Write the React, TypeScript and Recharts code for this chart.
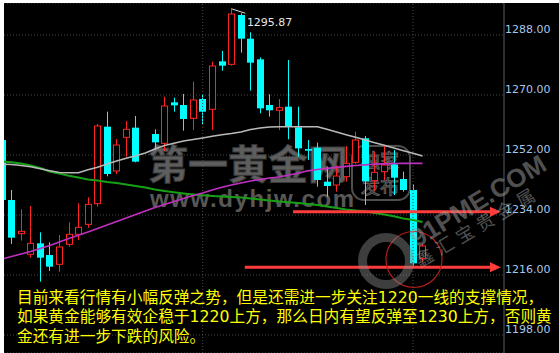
import React from 'react';
import {
  ComposedChart,
  Bar,
  Line,
  XAxis,
  YAxis,
  CartesianGrid,
  ReferenceLine,
  ReferenceDot,
} from 'recharts';

// Trading sessions (index 15 has no bar drawn)
const sessions = [
  0, 1, 2, 3, 4, 5, 6, 7, 8, 9, 10, 11, 12, 13, 14, 15, 16, 17, 18, 19, 20, 21, 22,
  23, 24, 25, 26, 27, 28, 29, 30, 31, 32, 33, 34, 35, 36, 37, 38, 39, 40, 41, 42, 43, 44,
];

const opens = [
  1256.5, 1238.5, 1228.4, 1222.2, 1225.5, 1222.0, 1219.2, 1225.2, 1228.2, 1231.2, 1237.4,
  1260.5, 1247.2, 1257.3, 1260.2, null, 1258.3, 1255.5, 1267.8, 1267.0, 1263.0, 1268.8,
  1265.7, 1280.1, 1279.2, 1294.0, 1286.9, 1280.7, 1267.0, 1265.4, 1266.5, 1260.3, 1253.8,
  1254.2, 1244.0, 1243.0, 1245.5, 1249.8, 1257.0, 1244.3, 1247.0, 1249.2, 1244.8, 1241.5,
  1221.0,
];
const highs = [
  1257.0, 1241.5, 1235.7, 1236.7, 1228.8, 1225.8, 1228.0, 1231.8, 1237.5, 1239.3, 1261.3,
  1265.0, 1256.7, 1262.2, 1263.7, null, 1259.7, 1269.5, 1269.2, 1270.3, 1274.0, 1270.3,
  1280.0, 1283.2, 1295.87, 1294.5, 1288.8, 1281.3, 1270.2, 1268.8, 1280.5, 1266.5, 1256.5,
  1255.7, 1248.5, 1248.8, 1254.7, 1259.0, 1257.7, 1253.0, 1254.7, 1253.5, 1247.0, 1243.2,
  1225.3,
];
const lows = [
  1238.0, 1225.3, 1226.3, 1221.2, 1214.0, 1217.2, 1217.0, 1224.5, 1226.5, 1230.2, 1236.5,
  1245.6, 1246.3, 1251.5, 1249.8, null, 1253.5, 1253.2, 1265.0, 1259.3, 1259.5, 1261.3,
  1259.5, 1277.3, 1278.8, 1282.7, 1271.3, 1264.5, 1263.5, 1259.5, 1256.7, 1251.5, 1250.5,
  1242.5, 1239.5, 1241.0, 1244.0, 1249.3, 1237.0, 1241.3, 1244.5, 1240.0, 1241.0, 1218.7,
  1220.0,
];
const closes = [
  1238.5, 1227.2, 1229.1, 1225.5, 1221.2, 1218.5, 1224.4, 1228.2, 1230.3, 1237.2, 1260.7,
  1246.3, 1255.0, 1259.7, 1250.0, null, 1255.8, 1266.7, 1266.9, 1262.8, 1268.5, 1265.0,
  1278.7, 1278.8, 1294.3, 1286.9, 1279.7, 1266.0, 1265.4, 1266.2, 1260.5, 1254.0, 1253.3,
  1244.5, 1242.7, 1245.7, 1249.5, 1256.5, 1244.1, 1246.8, 1249.0, 1245.2, 1241.5, 1219.5,
  1224.7,
];

// Moving averages
const maShort = [
  1249.2, 1249.15, 1248.85, 1248.45, 1247.9, 1247.3, 1246.75, 1246.7, 1246.7, 1247.6,
  1248.35, 1249.3, 1250.2, 1251.0, 1251.75, 1252.6, 1253.8, 1254.85, 1255.5, 1256.2,
  1256.65, 1257.1, 1257.6, 1258.1, 1258.45, 1258.9, 1259.65, 1260.1, 1260.4, 1260.5,
  1260.5, 1260.5, 1260.5, 1260.5, 1259.7, 1258.9, 1258.1, 1257.3, 1256.5, 1255.7, 1254.9,
  1254.1, 1253.3, 1252.5, 1251.7,
];
const maMid = [
  1250.05, 1249.8, 1249.45, 1248.85, 1248.1, 1247.05, 1246.45, 1245.75, 1245.25, 1244.65,
  1244.35, 1243.9, 1243.6, 1243.15, 1242.7, 1242.25, 1241.65, 1241.2, 1240.8, 1240.45,
  1240.15, 1239.9, 1239.7, 1239.55, 1239.4, 1239.25, 1238.95, 1238.65, 1238.35, 1238.05,
  1237.8, 1237.6, 1237.3, 1237.0, 1236.55, 1236.1, 1235.65, 1235.35, 1235.05, 1234.6,
  1234.15, 1233.6, 1232.95, 1232.5, 1231.9,
];
const maLong = [
  1220.8, 1221.55, 1222.3, 1223.05, 1223.95, 1224.85, 1225.9, 1226.95, 1227.9, 1228.9,
  1229.95, 1231.0, 1232.05, 1233.1, 1234.15, 1235.2, 1236.25, 1237.15, 1238.05, 1238.95,
  1239.85, 1240.6, 1241.5, 1242.3, 1243.0, 1243.6, 1244.2, 1244.65, 1245.1, 1245.4,
  1246.0, 1246.5, 1247.25, 1247.65, 1248.0, 1248.3, 1248.6, 1248.85, 1249.05, 1249.25,
  1249.35, 1249.45, 1249.5, 1249.5, 1249.5,
];

const yTicks = [1198, 1216, 1234, 1252, 1270, 1288];
const monthMarks = [21, 43];

// Annotation levels
const peakSession = 24;
const resistanceLevel = 1235;
const supportLevel = 1218.3;
const focusSession = 43.1;
const focusLevel = 1220.65;

const commentLines = [
  '目前来看行情有小幅反弹之势，但是还需进一步关注1220一线的支撑情况，',
  '如果黄金能够有效企稳于1220上方，那么日内有望反弹至1230上方，否则黄',
  '金还有进一步下跌的风险。',
];

const rows = sessions.map((s, i) => ({
  s,
  open: opens[i],
  high: highs[i],
  low: lows[i],
  close: closes[i],
  range: highs[i] == null ? null : [lows[i], highs[i]],
  maShort: maShort[i],
  maMid: maMid[i],
  maLong: maLong[i],
}));

const UP = '#ff2424';
const DOWN = '#00ffff';

const Candle = (props: any) => {
  const { x, y, width, height, payload } = props;
  if (!payload || payload.open == null) return null;
  const { open, close, high, low } = payload;
  const top = Math.min(y, y + height);
  const bottom = Math.max(y, y + height);
  const k = high === low ? 0 : (bottom - top) / (high - low);
  const py = (v: number) => top + (high - v) * k;
  const cx = Math.round(x + width / 2) + 0.5;
  const bodyTop = py(Math.max(open, close));
  const bodyBot = py(Math.min(open, close));
  const bh = Math.max(bodyBot - bodyTop, 1);
  if (close >= open) {
    return (
      <g>
        <line x1={cx} x2={cx} y1={top} y2={bodyTop} stroke={UP} strokeWidth={1} />
        <line x1={cx} x2={cx} y1={bodyTop + bh} y2={bottom} stroke={UP} strokeWidth={1} />
        <rect x={cx - 3} y={bodyTop} width={6} height={bh} fill="#000" stroke={UP} strokeWidth={1} />
      </g>
    );
  }
  return (
    <g>
      <line x1={cx} x2={cx} y1={top} y2={bottom} stroke={DOWN} strokeWidth={1} />
      <rect x={cx - 3.5} y={bodyTop} width={7} height={bh} fill={DOWN} />
    </g>
  );
};

const PriceTick = (props: any) => {
  const { x, y, payload } = props;
  return (
    <text x={x} y={y - 2.5} fill="#a9c6e6" fontSize={11} fontFamily="DejaVu Sans">
      {Number(payload.value).toFixed(2)}
    </text>
  );
};

const Arrow = (props: any) => {
  const { x1, y1, x2 } = props;
  const head = 11;
  return (
    <g>
      <line x1={x1} y1={y1} x2={x2 - head + 1} y2={y1} stroke="#ff3c3c" strokeWidth={3} />
      <polygon
        points={`${x2},${y1} ${x2 - head},${y1 - 5} ${x2 - head},${y1 + 5}`}
        fill="#ff3c3c"
      />
    </g>
  );
};

const PeakTag = (props: any) => {
  const { cx, cy } = props;
  return (
    <g>
      <line x1={cx} y1={cy} x2={cx + 14} y2={cy + 4.5} stroke="#d8d8d8" strokeWidth={1} />
      <text x={cx + 15.5} y={cy + 17.5} fill="#e6e6e6" fontSize={11} fontFamily="DejaVu Sans">
        {highs[peakSession]!.toFixed(2)}
      </text>
    </g>
  );
};

export default function App() {
  return (
    <div
      style={{
        position: 'absolute',
        left: 0,
        top: 0,
        width: 559,
        height: 353,
        background: '#fff',
        overflow: 'hidden',
      }}
    >
      <div style={{ position: 'absolute', left: 4, top: 3, width: 555, height: 350, background: '#000' }} />
      {/* site mark beneath the plot */}
      <svg width={559} height={353} style={{ position: 'absolute', left: 0, top: 0 }}>
        <text
          x={148}
          y={179}
          fontSize={40}
          fontWeight="bold"
          fill="#5e5e5e"
          stroke="#3a3a3a"
          strokeWidth={1}
          fontFamily="Noto Sans CJK SC"
        >
          第一黄金网
        </text>
        <text
          x={150}
          y={207}
          fontSize={24}
          fontWeight="bold"
          letterSpacing={1.6}
          fill="#585858"
          fontFamily="Liberation Sans"
        >
          www.dyhjw.com
        </text>
        <rect x={352} y={146} width={58} height={54} rx={12} fill="none" stroke="#4e4e4e" strokeWidth={2} />
        <text x={361} y={168} fontSize={19} fill="none" stroke="#5e5e5e" strokeWidth={1} fontFamily="Noto Sans CJK SC">
          独家
        </text>
        <text x={361} y={194} fontSize={19} fill="none" stroke="#5e5e5e" strokeWidth={1} fontFamily="Noto Sans CJK SC">
          发布
        </text>
      </svg>
      <div style={{ position: 'absolute', left: 4, top: 3 }}>
        <ComposedChart
          width={555}
          height={350}
          data={rows}
          margin={{ top: 0, right: 0, bottom: 0, left: 0 }}
        >
          <CartesianGrid
            vertical={false}
            stroke="#4a4a4a"
            strokeDasharray="1 2"
          />
          <XAxis
            dataKey="s"
            type="number"
            domain={[0.2155, 52.517]}
            allowDataOverflow
            hide
          />
          <YAxis
            type="number"
            orientation="right"
            domain={[1192.6, 1297.6]}
            allowDataOverflow
            ticks={yTicks}
            interval={0}
            width={55}
            tickLine={false}
            tickSize={0}
            tickMargin={1}
            axisLine={{ stroke: '#59606a' }}
            tick={<PriceTick />}
          />
          {monthMarks.map((m) => (
            <ReferenceLine key={m} x={m} stroke="#4a4a4a" strokeDasharray="1 2" />
          ))}
          <Line dataKey="maMid" stroke="#16a016" strokeWidth={2} dot={false} activeDot={false} isAnimationActive={false} connectNulls />
          <Line dataKey="maLong" stroke="#c030c0" strokeWidth={1.6} dot={false} activeDot={false} isAnimationActive={false} connectNulls />
          <Line dataKey="maShort" stroke="#b9b9b9" strokeWidth={1.5} dot={false} activeDot={false} isAnimationActive={false} connectNulls />
          <Bar dataKey="range" barSize={7} shape={<Candle />} isAnimationActive={false} />
          <ReferenceLine
            segment={[
              { x: 30.45, y: resistanceLevel },
              { x: 52.2, y: resistanceLevel },
            ]}
            shape={<Arrow />}
          />
          <ReferenceLine
            segment={[
              { x: 25.4, y: supportLevel },
              { x: 52.2, y: supportLevel },
            ]}
            shape={<Arrow />}
          />
          <ReferenceDot
            x={focusSession}
            y={focusLevel}
            r={28}
            fill="none"
            stroke="#b41c1c"
            strokeWidth={1.2}
          />
          <ReferenceDot x={peakSession} y={highs[peakSession]!} r={0} shape={<PeakTag />} />
        </ComposedChart>
      </div>
      {/* partner mark and commentary over the plot */}
      <svg width={559} height={353} style={{ position: 'absolute', left: 0, top: 0 }}>
        <circle cx={386} cy={261} r={23.5} fill="none" stroke="#8a8a8a" strokeOpacity={0.45} strokeWidth={9} />
        <text
          x={417}
          y={248}
          transform="rotate(-31 417 248)"
          fontSize={26}
          fontWeight="bold"
          fill="#a0a0a0"
          fillOpacity={0.5}
          fontFamily="Liberation Sans"
        >
          91PME.COM
        </text>
        <text
          x={420}
          y={268}
          transform="rotate(-30.5 420 268)"
          fontSize={18}
          letterSpacing={5.5}
          fill="#a0a0a0"
          fillOpacity={0.5}
          fontFamily="Noto Sans CJK SC"
        >
          鑫汇宝贵金属
        </text>
        {commentLines.map((t, i) => (
          <text
            key={i}
            x={17}
            y={302.5 + i * 19.5}
            fontSize={15.7}
            fill="#ffff00"
            style={{ fontFamily: "'DejaVu Sans', 'Noto Sans CJK SC', sans-serif" }}
          >
            {t}
          </text>
        ))}
      </svg>
    </div>
  );
}
